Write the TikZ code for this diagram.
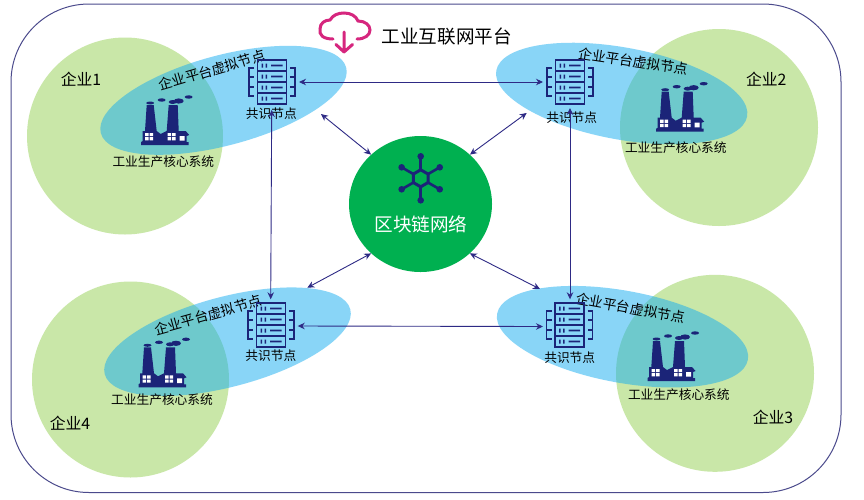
\documentclass[tikz,border=0pt]{standalone}
\usepackage{fontspec}
\setmainfont{Noto Sans CJK SC}
\usetikzlibrary{arrows.meta,shapes.geometric}
\definecolor{navy}{HTML}{1B2478}
\definecolor{framec}{HTML}{4B4A8C}
\definecolor{linkc}{HTML}{2E2A85}
\definecolor{pink}{HTML}{D6267E}
\definecolor{leaf}{HTML}{C9E7A8}
\definecolor{sky}{HTML}{15ADF1}
\definecolor{chainc}{HTML}{00B050}
\begin{document}
\begin{tikzpicture}[x=1pt,y=-1pt]
	\tikzset{
		company/.style = {shape=ellipse, fill=leaf, inner sep=0pt},
		virtual/.style = {shape=ellipse, fill=sky, fill opacity=0.5, inner sep=0pt},
		link/.style = {draw=linkc, line width=0.9pt, {Stealth[length=7pt,width=6.5pt]}-{Stealth[length=7pt,width=6.5pt]}},
		bigtext/.style = {font=\fontsize{18.6}{20}\selectfont},
		orgtext/.style = {font=\fontsize{15.8}{17}\selectfont},
		vtext/.style = {font=\fontsize{13.8}{15}\selectfont, inner sep=0pt},
		smalltext/.style = {font=\fontsize{12.7}{14}\selectfont, inner sep=0pt},
		server/.pic = {
			\foreach \y in {-22,-11,0,11} {
				\draw [navy, line width=1.4pt] (-14.5,\y) rectangle (14.5,\y+11);
				\fill [navy] (-10.5,\y+3.5) rectangle (-8.8,\y+7.5) (-6.5,\y+3.5) rectangle (-4.8,\y+7.5) (-1,\y+4.6) rectangle (10.5,\y+6.4);
			}
			\draw [navy, line width=1.3pt] (-18,-14) -- (-23,-14) -- (-23,14) -- (-18,14) (-23,-5) -- (-18,-5) (-23,5) -- (-18,5);
			\draw [navy, line width=1.3pt] (18,-14) -- (23,-14) -- (23,14) -- (18,14) (23,-5) -- (18,-5) (23,5) -- (18,5);
		},
		factory/.pic = {
			\fill [navy] (-0.5,0) -- (-0.5,-3) -- (1,-4) -- (1,-14) -- (3.3,-14) -- (5,-40) -- (12,-40) -- (15,-14) -- (19,-11) -- (25,-14) -- (27,-40) -- (36,-40) -- (37,-14) -- (44,-14) -- (47.5,-10) -- (45,-9) -- (45,-3) -- (47,-3) -- (47,0) -- cycle;
			\fill [navy] (8.5,-42) ellipse (4 and 1.5) (20,-45) ellipse (4 and 1.7) (31,-43) ellipse (4 and 2) (37,-44) ellipse (5 and 2.6) (47,-48) ellipse (4 and 1.7);
			\fill [white] (3.5,-12) rectangle (7,-8.8) (8,-12) rectangle (11.5,-8.8) (3.5,-7.8) rectangle (7,-4.6) (8,-7.8) rectangle (11.5,-4.6);
			\fill [white] (26,-12) rectangle (29.5,-8.8) (30.5,-12) rectangle (34,-8.8) (26,-7.8) rectangle (29.5,-4.6) (30.5,-7.8) rectangle (34,-4.6) (38,-9) rectangle (43,-4.3);
		},
	}
	\useasboundingbox (0,0) rectangle (864,499);
	\fill [white] (0,0) rectangle (864,499);
	% platform frame
	\node (platform) [draw=framec, line width=1pt, rounded corners=78pt, minimum width=830pt, minimum height=488.5pt] at (426,248.25) {};
	% companies
	\node (org1) [company, minimum width=196pt, minimum height=197pt] at (125,136) {};
	\node (org2) [company, minimum width=198pt, minimum height=197pt] at (719,127.5) {};
	\node (org4) [company, minimum width=197pt, minimum height=196pt] at (130.5,379.5) {};
	\node (org3) [company, minimum width=198pt, minimum height=197pt] at (715,373.3) {};
	% virtual nodes of the platform
	\node (virt1) [virtual, rotate=15, minimum width=254pt, minimum height=90pt] at (223.5,100.3) {};
	\node (virt2) [virtual, rotate=-10.4, minimum width=255pt, minimum height=92pt] at (621.7,93.5) {};
	\node (virt4) [virtual, rotate=14.8, minimum width=254pt, minimum height=90pt] at (227.5,341.7) {};
	\node (virt3) [virtual, rotate=-10.4, minimum width=255pt, minimum height=92pt] at (622.5,336.7) {};
	% block chain in the middle
	\node (chain) [shape=ellipse, fill=chainc, minimum width=143pt, minimum height=136pt, inner sep=0pt] at (420.5,204) {};
	\node (chaintext) [bigtext, text=white] at (421,224) {区块链网络};
	\foreach \a in {30,90,...,330} {
		\draw [navy, line width=2.6pt] (420.7,178.3) ++(\a:8) -- ++(\a:14);
		\fill [navy] (420.7,178.3) ++(\a:22) circle (3.3);
	}
	\draw [navy, line width=3pt] (420.7,178.3) +(30:8.5) -- +(90:8.5) -- +(150:8.5) -- +(210:8.5) -- +(270:8.5) -- +(330:8.5) -- cycle;
	% title
	\draw [pink, line width=3pt, line cap=round] (333,39) .. controls (323,39) and (319,35) .. (320,29) .. controls (320,23) and (325,20) .. (330,20) .. controls (333,15) and (338,13) .. (344,13) .. controls (351,13) and (356,16) .. (358,21) .. controls (365,21) and (370,25) .. (370,30) .. controls (370,35) and (365,39) .. (357,39);
	\draw [pink, line width=3pt, line cap=round, line join=round] (344,32) -- (344,52) (336,44.5) -- (344,52) -- (352.5,44.5);
	\node (title) [bigtext] at (446.7,36) {工业互联网平台};
	% labels
	\node (name1) [orgtext] at (81,79) {企业1};
	\node (name2) [orgtext] at (766.3,79.3) {企业2};
	\node (name4) [orgtext] at (70,423.3) {企业4};
	\node (name3) [orgtext] at (773,416.7) {企业3};
	\node (vtext1) [vtext, rotate=16.5] at (212,70) {企业平台虚拟节点};
	\node (vtext2) [vtext, rotate=-8.6] at (633,61) {企业平台虚拟节点};
	\node (vtext4) [vtext, rotate=15.7] at (208,315) {企业平台虚拟节点};
	\node (vtext3) [vtext, rotate=-10.4] at (630.5,308) {企业平台虚拟节点};
	\node (core1) [smalltext] at (163.3,161.7) {工业生产核心系统};
	\node (core2) [smalltext] at (675.8,147.3) {工业生产核心系统};
	\node (core4) [smalltext] at (162,400) {工业生产核心系统};
	\node (core3) [smalltext] at (678.8,394.3) {工业生产核心系统};
	\node (peer1) [smalltext] at (271.3,114) {共识节点};
	\node (peer2) [smalltext] at (571.7,117.7) {共识节点};
	\node (peer4) [smalltext] at (270.8,355.7) {共识节点};
	\node (peer3) [smalltext] at (569.7,357.3) {共识节点};
	% icons
	\pic at (272,82) {server};
	\pic at (570,82) {server};
	\pic at (271,325) {server};
	\pic at (569.5,325) {server};
	\pic at (141.7,145) {factory};
	\pic at (656.7,131.7) {factory};
	\pic at (139,387.3) {factory};
	\pic at (648,381) {factory};
	% arrows
	\coordinate (srv1r) at (299,82);
	\coordinate (srv2l) at (543,82);
	\coordinate (srv4r) at (297.7,326);
	\coordinate (srv3l) at (543,326.5);
	\coordinate (peer1b) at (271.7,110);
	\coordinate (srv4t) at (270.7,299.3);
	\coordinate (peer2b) at (570,108);
	\coordinate (srv3t) at (570,299.3);
	\coordinate (virt1c) at (321,114);
	\coordinate (virt2c) at (526.7,113);
	\coordinate (virt4c) at (307.3,287.7);
	\coordinate (virt3c) at (540,289);
	\draw [link] (srv1r) -- (srv2l);
	\draw [link] (srv4r) -- (srv3l);
	\draw [link] (peer1b) -- (srv4t);
	\draw [link] (peer2b) -- (srv3t);
	\draw [link] (virt1c) -- (chain.135);
	\draw [link] (virt2c) -- (chain.45);
	\draw [link] (virt4c) -- (chain.225);
	\draw [link] (virt3c) -- (chain.315);
\end{tikzpicture}
\end{document}
